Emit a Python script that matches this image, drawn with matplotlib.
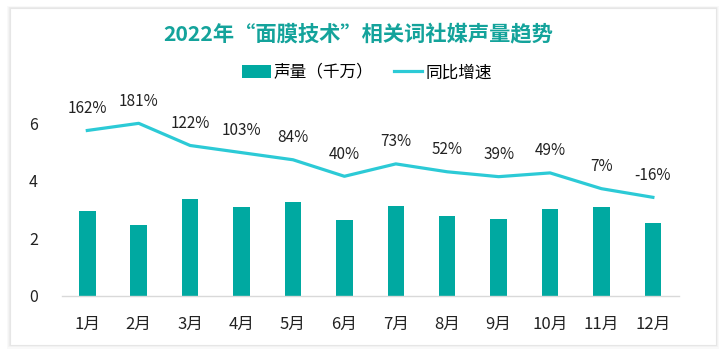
import matplotlib
matplotlib.use("Agg")
import matplotlib.pyplot as plt
from matplotlib.patches import FancyBboxPatch, Patch
from matplotlib.lines import Line2D

plt.rcParams['font.family'] = ['Noto Sans CJK SC', 'DejaVu Sans']

months = ['1月', '2月', '3月', '4月', '5月', '6月', '7月', '8月', '9月', '10月', '11月', '12月']
volume = [2.95, 2.47, 3.37, 3.09, 3.27, 2.64, 3.12, 2.79, 2.67, 3.03, 3.08, 2.53]
growth = [162, 181, 122, 103, 84, 40, 73, 52, 39, 49, 7, -16]

bar_color = '#00a9a1'
line_color = '#2ccad6'
title_color = '#14a39b'

fig = plt.figure(figsize=(7.26, 3.53), dpi=100)
fig.patch.set_facecolor('white')

# card with soft shadow
for i, a in enumerate([0.05, 0.06, 0.08]):
    d = (3 - i) / 726
    fig.patches.append(FancyBboxPatch((10 / 726 - d, 1 - 345 / 353 - d * 2.5),
                                      706 / 726 + 2 * d, 337 / 353 + 4 * d,
                                      boxstyle='square,pad=0', transform=fig.transFigure,
                                      facecolor='#9a9a9a', edgecolor='none', alpha=a, zorder=-10))
fig.patches.append(FancyBboxPatch((10 / 726, 1 - 345 / 353), 706 / 726, 337 / 353,
                                  boxstyle='square,pad=0', transform=fig.transFigure,
                                  facecolor='white', edgecolor='#e6e6e6', lw=0.8, zorder=-9))

ax = fig.add_axes([61.6 / 726, 1 - 296 / 353, 617 / 726, 187 / 353])
ax.set_facecolor('none')
x = range(len(months))
ax.bar(x, volume, width=0.32, color=bar_color, zorder=2)
ax.set_xlim(-0.5, len(months) - 0.5)
ymax = 187 / 28.8
ax.set_ylim(0, ymax)
ax.set_yticks([0, 2, 4, 6])
ax.set_xticks(list(x))
ax.set_xticklabels(months)
ax.tick_params(axis='both', length=0, colors='#222222')
ax.tick_params(axis='x', pad=14, labelsize=12)
ax.tick_params(axis='y', pad=17, labelsize=11.5)
for s in ['top', 'right', 'left']:
    ax.spines[s].set_visible(False)
ax.spines['bottom'].set_color('#d9d9d9')
ax.spines['bottom'].set_linewidth(1.0)

ax2 = ax.twinx()
per_unit = 1 / 0.01304
low = -3.635 * per_unit
ax2.set_ylim(low, low + ymax * per_unit)
ax2.plot(list(x), growth, color=line_color, lw=2.3, zorder=3)
ax2.axis('off')
for i, g in enumerate(growth):
    ax2.annotate(f'{g}%', (i, g), xytext=(0, 16), textcoords='offset points',
                 ha='center', va='center', fontsize=11, color='#222222')

fig.text(358 / 726, 1 - 35 / 353, '2022年“面膜技术”相关词社媒声量趋势', ha='center', va='center',
         fontsize=15.3, fontweight='bold', color=title_color)

handles = [Patch(facecolor=bar_color, edgecolor='none', label='声量（千万）'),
           Line2D([0], [0], color=line_color, lw=2.3, label='同比增速')]
fig.legend(handles=handles, loc='center', bbox_to_anchor=(367 / 726, 1 - 73 / 353), ncol=2,
           frameon=False, fontsize=12, handlelength=1.7, handletextpad=0.2, columnspacing=1.2,
           handleheight=0.8)

fig.savefig('out.png', dpi=100, facecolor='white')
